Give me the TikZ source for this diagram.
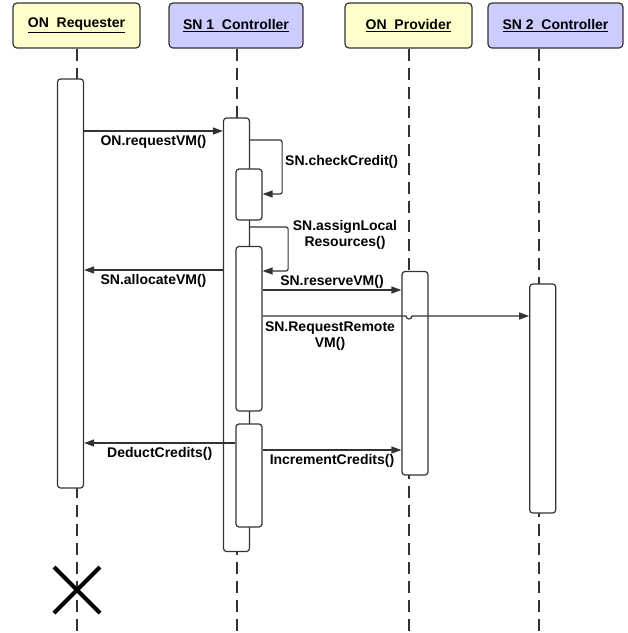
\documentclass[tikz,border=0pt]{standalone}
\usepackage{fontspec}
\setmainfont{Liberation Sans}
\usetikzlibrary{arrows.meta,shapes.misc}

\definecolor{onyellow}{HTML}{FFFFCC}
\definecolor{snblue}{HTML}{CCCCFF}
\definecolor{linegray}{HTML}{333333}

\begin{document}
\begin{tikzpicture}[x=1pt,y=-1pt,
  font=\fontsize{14}{16}\selectfont\bfseries,
  >={Triangle[length=10pt,width=7pt]},
  head node/.style={draw=linegray,line width=1.2pt,rounded corners=4pt,minimum height=45pt,inner sep=0pt},
  bar node/.style={draw=linegray,line width=1.2pt,fill=white,rounded corners=3pt,minimum width=26pt,inner sep=0pt},
  life line/.style={draw=linegray,line width=1.2pt,dash pattern=on 12pt off 7pt},
  msg/.style={->,draw=linegray,line width=1.2pt},
  self msg/.style={msg,rounded corners=2pt},
  msg label/.style={inner sep=1pt,align=center}]

\useasboundingbox (0,0) rectangle (628,633);

% heads
\node[head node, fill=onyellow, minimum width=127pt] (req)  at (76.5,25.5)  {\underline{ON\ \ Requester}};
\node[head node, fill=snblue,   minimum width=134pt] (sna)  at (236,25.5)   {\underline{SN 1\ \ Controller}};
\node[head node, fill=onyellow, minimum width=127pt] (prov) at (408.5,25.5) {\underline{ON\ \ Provider}};
\node[head node, fill=snblue,   minimum width=135pt] (snb)  at (555.5,25.5) {\underline{SN 2\ \ Controller}};

% life lines
\draw[life line] ([xshift=0.5pt]req.south)    -- ++(0,582);
\draw[life line] ([xshift=1pt]sna.south)      -- ++(0,582);
\draw[life line] ([xshift=0.5pt]prov.south)   -- ++(0,582);
\draw[life line] ([xshift=-16.5pt]snb.south)  -- ++(0,582);

% activation bars
\node[bar node, minimum height=409pt]   (reqbar)  at (70.5,283.5)  {};
\node[bar node, minimum height=433.5pt] (snbar)   at (236.5,334.75) {};
\node[bar node, minimum height=51pt]    (chkbar)  at (249,194.5)   {};
\node[bar node, minimum height=164.5pt] (resbar)  at (249,328.75)  {};
\node[bar node, minimum height=103pt]   (credbar) at (249,475.5)   {};
\node[bar node, minimum height=203.5pt] (provbar) at (415,373.25)  {};
\node[bar node, minimum height=229pt]   (snbbar)  at (542.75,398.5) {};

\coordinate (hop) at (406,316);

% messages
\draw[msg] (reqbar.east |- 0,131) -- node[msg label,below=2.5pt] {ON.requestVM()} (snbar.west |- 0,131);
\draw[self msg] (snbar.east |- 0,140) -- ++(32,0) |- (chkbar.east |- 0,194);
\node[msg label, anchor=west] (chklabel) at (284,162) {SN.checkCredit()};
\draw[self msg] (snbar.east |- 0,227) -- ++(38,0) |- (resbar.east |- 0,271);
\node[msg label] (reslabel) at (345,235) {SN.assignLocal\\Resources()};
\draw[msg] (snbar.west |- 0,270) -- node[msg label,below=2.5pt] {SN.allocateVM()} (reqbar.east |- 0,270);
\draw[msg] (resbar.east |- 0,290) -- node[msg label,above=0.5pt] {SN.reserveVM()} (provbar.west |- 0,290);
\draw[msg] (resbar.east |- 0,316) -- (hop) arc[start angle=180,end angle=360,radius=3pt] -- (snbbar.west |- 0,316);
\node[msg label, below] (remlabel) at (330,321) {SN.RequestRemote\\VM()};
\draw[msg] (credbar.west |- 0,443) -- node[msg label,below=2.5pt] {DeductCredits()} (reqbar.east |- 0,443);
\draw[msg] (credbar.east |- 0,450) -- node[msg label,below=2.5pt] {IncrementCredits()} (provbar.west |- 0,450);

% end of requester
\node[draw, cross out, line width=4pt, minimum size=42pt, inner sep=0pt] (reqend) at (77,590) {};
\end{tikzpicture}
\end{document}
